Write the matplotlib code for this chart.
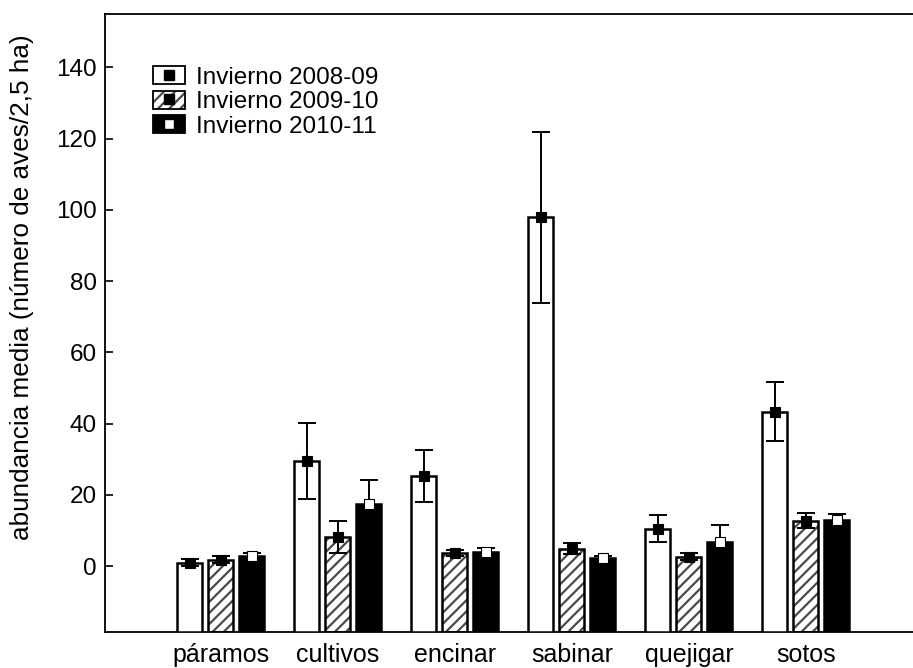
import matplotlib.pyplot as plt
import numpy as np
from matplotlib.patches import Patch
from matplotlib.lines import Line2D

plt.rcParams['font.family'] = ['Liberation Sans', 'DejaVu Sans']
plt.rcParams['hatch.linewidth'] = 1.6

# Data
habitats = ["páramos", "cultivos", "encinar", "sabinar", "quejigar", "sotos"]
inv_0809 = [1.0, 29.5, 25.3, 98.0, 10.5, 43.4]
err_0809 = [0.9, 10.8, 7.2, 24.0, 3.8, 8.2]
inv_0910 = [1.8, 8.2, 3.6, 4.9, 2.6, 12.8]
err_0910 = [1.0, 4.4, 0.8, 1.6, 1.0, 2.0]
inv_1011 = [2.8, 17.4, 3.9, 2.2, 6.7, 12.9]
err_1011 = [0.9, 6.8, 1.2, 0.6, 4.7, 1.7]
labels = ["Invierno 2008-09", "Invierno 2009-10", "Invierno 2010-11"]

YMIN, YMAX = -18.5, 155
HATCH_COL = "#4a4a4a"
x = np.arange(len(habitats))
width = 0.214
off = 0.265

fig = plt.figure(figsize=(9.13, 6.68), dpi=100)
ax = fig.add_axes([105 / 913, 1 - 632 / 668, 808 / 913, 618 / 668])

def draw(vals, errs, pos, face, hatch, mface):
    vals = np.array(vals)
    if hatch:
        ax.bar(pos, vals - YMIN, width, bottom=YMIN, color="white",
               edgecolor=HATCH_COL, hatch=hatch, linewidth=0, zorder=2)
        ax.bar(pos, vals - YMIN, width, bottom=YMIN, fill=False,
               edgecolor="black", linewidth=1.8, zorder=3)
    else:
        ax.bar(pos, vals - YMIN, width, bottom=YMIN, color=face,
               edgecolor="black", linewidth=1.8, zorder=3)
    ax.errorbar(pos, vals, yerr=errs, fmt="none", ecolor="black",
                elinewidth=1.4, capsize=6.5, capthick=1.4, zorder=4)
    ax.plot(pos, vals, "s", markerfacecolor=mface, markeredgecolor="black",
            markeredgewidth=0.8, markersize=6.5, linestyle="none", zorder=5)

draw(inv_0809, err_0809, x - off, "white", None, "black")
draw(inv_0910, err_0910, x, "white", "///", "black")
draw(inv_1011, err_1011, x + off, "black", None, "white")

ax.set_xlim(-0.99, 5.915)
ax.set_ylim(YMIN, YMAX)
ax.set_yticks(np.arange(0, 141, 20))
ax.set_xticks(x)
ax.set_xticklabels(habitats, fontsize=18)
ax.tick_params(axis="x", length=0, pad=8)
ax.tick_params(axis="y", direction="in", length=6, width=1.2, labelsize=17.5, pad=6)
ax.spines["right"].set_visible(False)
for s in ["left", "bottom", "top"]:
    ax.spines[s].set_linewidth(1.3)

fig.text(22 / 913, 1 - 287 / 668, "abundancia media (número de aves/2,5 ha)",
         rotation=90, ha="center", va="center", fontsize=18.8)

# Legend
h1 = (Patch(facecolor="white", edgecolor="black", linewidth=1.3),
      Line2D([], [], marker="s", color="black", linestyle="none", markersize=7.5))
h2 = (Patch(facecolor="white", edgecolor=HATCH_COL, hatch="///", linewidth=0),
      Patch(fill=False, edgecolor="black", linewidth=1.3),
      Line2D([], [], marker="s", color="black", linestyle="none", markersize=7.5))
h3 = (Patch(facecolor="black", edgecolor="black", linewidth=1.3),
      Line2D([], [], marker="s", markerfacecolor="white", markeredgecolor="black",
             linestyle="none", markersize=7.5))
fig.legend([h1, h2, h3], labels, loc="upper left",
           bbox_to_anchor=(153 / 913, 1 - 66 / 668), frameon=False,
           fontsize=17.5, borderpad=0, borderaxespad=0, handlelength=1.32,
           handleheight=0.78, handletextpad=0.45, labelspacing=0.08)

plt.savefig("out.png", dpi=100)
plt.close()
